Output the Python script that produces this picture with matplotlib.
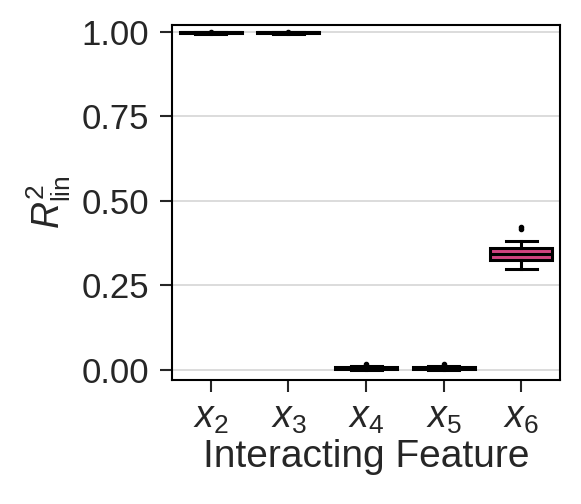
import matplotlib
matplotlib.use("Agg")
import matplotlib.pyplot as plt

# box statistics
features = ["$x_2$", "$x_3$", "$x_4$", "$x_5$", "$x_6$"]
q1 = [0.996, 0.996, 0.002, 0.002, 0.326]
med = [0.999, 0.999, 0.005, 0.005, 0.343]
q3 = [1.000, 1.000, 0.008, 0.008, 0.360]
whislo = [0.994, 0.994, 0.000, 0.000, 0.298]
whishi = [1.000, 1.000, 0.012, 0.012, 0.381]
fliers = [[1.001], [1.001], [0.017], [0.017], [0.417, 0.422]]
colors = ["#4a0c4e", "#4a0c4e", "#4a0c4e", "#4a0c4e", "#d0437f"]

plt.rcParams["font.family"] = ["Liberation Sans", "DejaVu Sans"]
plt.rcParams["mathtext.fontset"] = "custom"
plt.rcParams["mathtext.rm"] = "Liberation Sans"
plt.rcParams["mathtext.it"] = "Liberation Sans:italic"

fig = plt.figure(figsize=(5.81, 5.04), dpi=100)
ax = fig.add_axes([0.296, 0.246, 0.668, 0.704])

stats = []
for i in range(len(features)):
    stats.append(dict(q1=q1[i], med=med[i], q3=q3[i], whislo=whislo[i],
                      whishi=whishi[i], fliers=fliers[i], label=features[i]))

lw = 2.2
bp = ax.bxp(stats, positions=range(len(features)), widths=0.8, patch_artist=True,
            boxprops=dict(edgecolor="black", linewidth=lw),
            medianprops=dict(color="black", linewidth=lw),
            whiskerprops=dict(color="black", linewidth=lw),
            capprops=dict(color="black", linewidth=lw),
            capwidths=0.4,
            flierprops=dict(marker="o", markersize=3, markerfacecolor="black",
                            markeredgecolor="black"))
for patch, c in zip(bp["boxes"], colors):
    patch.set_facecolor(c)

ax.set_xlim(-0.5, 4.5)
ax.set_ylim(-0.03, 1.02)
ax.set_yticks([0.0, 0.25, 0.5, 0.75, 1.0])
ax.set_yticklabels(["0.00", "0.25", "0.50", "0.75", "1.00"])
ax.yaxis.grid(True, color="#d6d6d6", linewidth=1.2)
ax.set_axisbelow(True)

for s in ax.spines.values():
    s.set_linewidth(1.5)
ax.tick_params(axis="both", direction="out", length=8.5, width=1.5, labelsize=25,
               colors="#262626")
ax.tick_params(axis="y", pad=8)
ax.tick_params(axis="x", labelsize=27, pad=6)

ax.set_xlabel("Interacting Feature", fontsize=28, color="#262626", labelpad=2)
ax.set_ylabel("$R^2_{\\mathrm{lin}}$", fontsize=27, color="#262626", labelpad=6)

fig.savefig("out.png", dpi=100)
